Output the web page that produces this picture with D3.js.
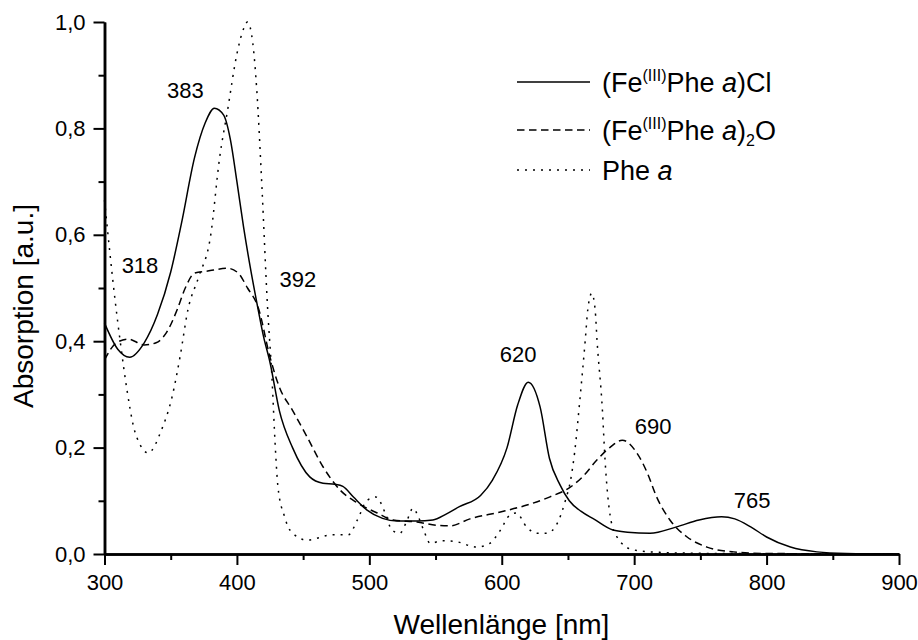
<!DOCTYPE html>
<html>
<head>
<meta charset="utf-8">
<script src="https://cdn.jsdelivr.net/npm/d3@7"></script>
<style>
  body { margin: 0; background: #fff; }
  svg { font-family: Arial, "Liberation Sans", sans-serif; }
  .axis path, .axis line { stroke: #000; }
  .axis text { font-size: 22px; fill: #000; }
  .curve { fill: none; stroke: #000; stroke-width: 1.5; }
</style>
</head>
<body>
<div id="chart"></div>
<script>
// Données (longueur d'onde en nm, absorption en u.a.)
const clWl  = [300, 310, 319, 330, 340, 350, 358, 368, 376, 383, 390, 395, 400, 405, 410, 416, 420, 425, 432, 442, 455, 465, 474, 480, 488, 498, 510, 521, 536, 548, 558, 568, 584, 593, 604, 612, 620, 629, 636, 644, 651, 660, 670, 684, 695, 712, 732, 749, 766, 776, 788, 800, 818, 838, 860, 900];
const clAbs = [0.434, 0.385, 0.370, 0.397, 0.45, 0.53, 0.62, 0.745, 0.81, 0.838, 0.825, 0.78, 0.70, 0.615, 0.54, 0.46, 0.41, 0.36, 0.27, 0.20, 0.145, 0.133, 0.131, 0.127, 0.107, 0.083, 0.067, 0.062, 0.062, 0.064, 0.075, 0.089, 0.11, 0.139, 0.20, 0.28, 0.323, 0.276, 0.18, 0.13, 0.10, 0.08, 0.065, 0.045, 0.041, 0.039, 0.051, 0.064, 0.070, 0.066, 0.051, 0.032, 0.013, 0.004, 0.001, 0.0];

const oxoWl  = [300, 309, 318, 330, 339, 347, 355, 361, 368, 378, 393, 401, 408, 416, 425, 432, 442, 453, 465, 478, 491, 506, 518, 536, 551, 561, 576, 599, 619, 636, 652, 661, 672, 682, 691, 702, 710, 717, 727, 740, 755, 775, 800, 900];
const oxoAbs = [0.365, 0.397, 0.404, 0.393, 0.397, 0.417, 0.46, 0.50, 0.528, 0.532, 0.537, 0.528, 0.50, 0.464, 0.37, 0.314, 0.27, 0.22, 0.164, 0.12, 0.096, 0.077, 0.064, 0.06, 0.054, 0.053, 0.066, 0.079, 0.092, 0.107, 0.126, 0.145, 0.177, 0.201, 0.214, 0.19, 0.152, 0.107, 0.064, 0.032, 0.013, 0.004, 0.001, 0.0];

const pheWl  = [300, 308, 312, 317, 322, 327, 333, 343, 351, 357, 363, 371, 380, 387, 393, 400, 404, 408, 412, 415, 419, 423, 426.5, 429, 431, 436, 440, 453, 472, 484, 491, 498, 505, 512, 517, 523, 528, 533, 537, 541, 546, 555, 566, 581, 591, 599, 606, 611, 619, 627, 634, 642, 648, 652, 655, 659, 663, 665, 668, 670.5, 672, 676, 678, 682, 687, 699, 720, 760, 900];
const pheAbs = [0.665, 0.477, 0.397, 0.308, 0.239, 0.205, 0.19, 0.233, 0.295, 0.37, 0.459, 0.52, 0.596, 0.746, 0.835, 0.94, 0.98, 1.0, 0.96, 0.872, 0.684, 0.47, 0.33, 0.2, 0.126, 0.07, 0.045, 0.026, 0.036, 0.036, 0.064, 0.10, 0.107, 0.077, 0.045, 0.039, 0.06, 0.086, 0.07, 0.045, 0.02, 0.025, 0.023, 0.013, 0.02, 0.045, 0.073, 0.077, 0.05, 0.039, 0.039, 0.058, 0.10, 0.139, 0.19, 0.29, 0.40, 0.46, 0.49, 0.46, 0.40, 0.271, 0.177, 0.07, 0.032, 0.008, 0.003, 0.001, 0.0];

// Étiquettes des maxima (texte, position en unités de données)
const peakText = ["383", "318", "392", "620", "690", "765"];
const peakWl   = [361, 326.8, 446.1, 612.3, 714.3, 789];
const peakAbs  = [0.857, 0.528, 0.502, 0.361, 0.2256, 0.0865];

// Graduations
const xMajor = [300, 400, 500, 600, 700, 800, 900];
const xMinor = [350, 450, 550, 650, 750, 850];
const yMajor = [0, 0.2, 0.4, 0.6, 0.8, 1.0];
const yMinor = [0.1, 0.3, 0.5, 0.7, 0.9];

const width = 918;
const height = 640;

const xScale = d3.scaleLinear().domain([300, 900]).range([104.5, 899]);
const yScale = d3.scaleLinear().domain([0, 1]).range([554, 22]);

const svg = d3.select("#chart")
  .append("svg")
    .attr("width", width)
    .attr("height", height)
    .attr("viewBox", `0 0 ${width} ${height}`);

const line = d3.line()
  .x(d => xScale(d[0]))
  .y(d => yScale(d[1]))
  .curve(d3.curveMonotoneX);

const series = [
  { wl: clWl,  abs: clAbs,  dash: null },
  { wl: oxoWl, abs: oxoAbs, dash: "7.5,4.5" },
  { wl: pheWl, abs: pheAbs, dash: "2,6" }
];

// COURBES
series.forEach(s => {
  svg.append("path")
    .datum(d3.zip(s.wl, s.abs))
    .attr("class", "curve")
    .attr("stroke-dasharray", s.dash)
    .attr("d", line);
});

// AXE X
const fmt = d3.format(".1f");
const comma = v => fmt(v).replace(".", ",");

svg.append("g")
  .attr("class", "axis")
  .attr("transform", `translate(0,${yScale(0)})`)
  .call(d3.axisBottom(xScale).tickValues(xMinor).tickSize(6).tickSizeOuter(0).tickFormat(""));

const xAxis = svg.append("g")
  .attr("class", "axis")
  .attr("transform", `translate(0,${yScale(0)})`)
  .call(d3.axisBottom(xScale).tickValues(xMajor).tickSize(11).tickSizeOuter(0).tickPadding(9).tickFormat(d3.format("d")));

// AXE Y
svg.append("g")
  .attr("class", "axis")
  .attr("transform", `translate(${xScale(300)},0)`)
  .call(d3.axisLeft(yScale).tickValues(yMinor).tickSize(6).tickSizeOuter(0).tickFormat(""));

const yAxis = svg.append("g")
  .attr("class", "axis")
  .attr("transform", `translate(${xScale(300)},0)`)
  .call(d3.axisLeft(yScale).tickValues(yMajor).tickSize(11).tickSizeOuter(0).tickPadding(8).tickFormat(comma));

svg.selectAll(".axis path.domain").attr("stroke-width", 2.5);
svg.selectAll(".axis .tick line").attr("stroke-width", 2);

// Titres des axes
svg.append("text")
  .attr("x", 501.5)
  .attr("y", 634)
  .attr("text-anchor", "middle")
  .attr("font-size", 28)
  .text("Wellenlänge [nm]");

svg.append("text")
  .attr("transform", "translate(33,306) rotate(-90)")
  .attr("text-anchor", "middle")
  .attr("font-size", 28)
  .text("Absorption [a.u.]");

// Étiquettes des pics
svg.selectAll(".peak")
  .data(d3.range(peakText.length))
  .enter()
  .append("text")
    .attr("class", "peak")
    .attr("x", i => xScale(peakWl[i]))
    .attr("y", i => yScale(peakAbs[i]))
    .attr("text-anchor", "middle")
    .attr("font-size", 22)
    .text(i => peakText[i]);

// LÉGENDE
const legend = svg.append("g").attr("font-size", 27);
const rows = [
  { y: 82,  dash: null },
  { y: 130, dash: "7.5,4.5" },
  { y: 170, dash: "2,6" }
];

rows.forEach(r => {
  legend.append("line")
    .attr("x1", 517).attr("x2", 590)
    .attr("y1", r.y).attr("y2", r.y)
    .attr("stroke", "#000")
    .attr("stroke-width", 1.5)
    .attr("stroke-dasharray", r.dash);
});

// (Fe(III)Phe a)Cl
let t = legend.append("text").attr("x", 602).attr("y", rows[0].y + 10);
t.append("tspan").text("(Fe");
t.append("tspan").attr("font-size", 16).attr("dy", -11).text("(III)");
t.append("tspan").attr("dy", 11).text("Phe ");
t.append("tspan").attr("font-style", "italic").text("a");
t.append("tspan").text(")Cl");

// (Fe(III)Phe a)2O
t = legend.append("text").attr("x", 602).attr("y", rows[1].y + 10);
t.append("tspan").text("(Fe");
t.append("tspan").attr("font-size", 16).attr("dy", -11).text("(III)");
t.append("tspan").attr("dy", 11).text("Phe ");
t.append("tspan").attr("font-style", "italic").text("a");
t.append("tspan").text(")");
t.append("tspan").attr("font-size", 16).attr("dy", 6).text("2");
t.append("tspan").attr("dy", -6).text("O");

// Phe a
t = legend.append("text").attr("x", 602).attr("y", rows[2].y + 10);
t.append("tspan").text("Phe ");
t.append("tspan").attr("font-style", "italic").text("a");
</script>
</body>
</html>
